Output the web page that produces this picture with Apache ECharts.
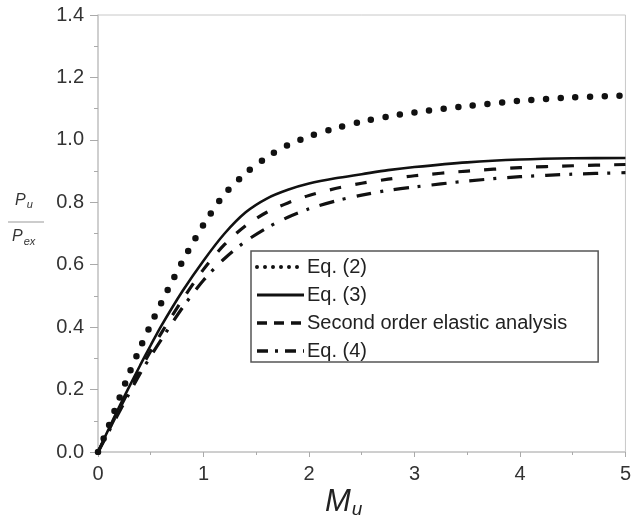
<!DOCTYPE html>
<html>
<head>
<meta charset="utf-8">
<script src="https://cdn.jsdelivr.net/npm/echarts@6/dist/echarts.min.js"></script>
<style>
  html, body { margin: 0; padding: 0; background: #fff; }
  #chart { width: 634px; height: 529px; }
</style>
</head>
<body>
<div id="chart"></div>
<script>
// Moment ratio Mu and the matching load ratio Pu/Pex for each method
const mu = [0, 0.1, 0.2, 0.3, 0.4, 0.5, 0.6, 0.8, 1.0, 1.2, 1.4, 1.6, 1.8, 2.0, 2.25, 2.5, 2.75, 3.0, 3.5, 4.0, 4.5, 5.0];
const eq2 = [0, 0.082, 0.170, 0.255, 0.334, 0.408, 0.478, 0.610, 0.728, 0.826, 0.893, 0.944, 0.983, 1.011, 1.037, 1.058, 1.075, 1.088, 1.108, 1.125, 1.136, 1.142];
const eq3 = [0, 0.073, 0.144, 0.212, 0.278, 0.342, 0.404, 0.515, 0.613, 0.700, 0.768, 0.812, 0.840, 0.860, 0.877, 0.890, 0.903, 0.913, 0.928, 0.937, 0.941, 0.942];
const secondOrder = [0, 0.068, 0.136, 0.202, 0.264, 0.324, 0.381, 0.488, 0.585, 0.665, 0.725, 0.768, 0.798, 0.822, 0.844, 0.861, 0.874, 0.885, 0.900, 0.911, 0.917, 0.921];
const eq4 = [0, 0.064, 0.127, 0.190, 0.252, 0.307, 0.360, 0.462, 0.550, 0.620, 0.675, 0.718, 0.752, 0.779, 0.804, 0.823, 0.838, 0.849, 0.868, 0.882, 0.890, 0.895];

const seriesNames = ['Eq. (2)', 'Eq. (3)', 'Second order elastic analysis', 'Eq. (4)'];
const xTicks = [0, 1, 2, 3, 4, 5];
const yTicks = [0.0, 0.2, 0.4, 0.6, 0.8, 1.0, 1.2, 1.4];

const pairs = ys => mu.map((x, i) => [x, ys[i]]);

const ink = '#111';
const axisGray = '#c8c8c8';
const labelFont = { fontFamily: 'Liberation Sans, Arial, sans-serif', fontSize: 20, color: '#333' };
const hidden = { color: 'rgba(0,0,0,0)', borderWidth: 0, opacity: 0 };

const lineSeries = (name, ys, style) => ({
  name,
  type: 'line',
  data: pairs(ys),
  smooth: 0.3,
  symbol: 'none',
  lineStyle: Object.assign({ color: ink }, style),
  itemStyle: { color: ink },
  z: 3
});

const chart = echarts.init(document.getElementById('chart'), null, { renderer: 'canvas' });
chart.setOption({
  animation: false,
  backgroundColor: '#fff',
  grid: {
    left: 98, right: 6, top: 15, bottom: 77,
    show: true, borderColor: axisGray, borderWidth: 1
  },
  xAxis: {
    type: 'value', min: 0, max: 5, interval: 1,
    axisLine: { show: true, lineStyle: { color: axisGray, width: 1.5 } },
    axisTick: { show: true, inside: false, length: 5, lineStyle: { color: '#aaa' } },
    minorTick: { show: true, splitNumber: 2, length: 3, lineStyle: { color: '#aaa' } },
    splitLine: { show: false },
    axisLabel: Object.assign({ margin: 12, formatter: v => (xTicks.includes(v) ? String(v) : '') }, labelFont)
  },
  yAxis: {
    type: 'value', min: 0, max: 1.4, interval: 0.2,
    axisLine: { show: true, lineStyle: { color: axisGray, width: 1.5 } },
    axisTick: { show: true, inside: false, length: 8, lineStyle: { color: '#aaa' } },
    minorTick: { show: true, splitNumber: 2, length: 4, lineStyle: { color: '#aaa' } },
    splitLine: { show: false },
    axisLabel: Object.assign({ margin: 14, formatter: v => v.toFixed(1) }, labelFont)
  },
  legend: {
    orient: 'vertical',
    left: 251, top: 251,
    padding: [6, 31, 1, 4],
    itemGap: 8,
    itemWidth: 47,
    itemHeight: 14,
    backgroundColor: '#fff',
    borderColor: '#555',
    borderWidth: 1.5,
    itemStyle: hidden,
    textStyle: { fontFamily: 'Liberation Sans, Arial, sans-serif', fontSize: 20, color: '#222', padding: [0, 0, 0, -2] },
    data: [
      { name: seriesNames[0], itemStyle: hidden, lineStyle: { color: ink, width: 4, type: [0, 8], cap: 'round' } },
      { name: seriesNames[1], itemStyle: hidden, lineStyle: { color: ink, width: 3, type: 'solid' } },
      { name: seriesNames[2], itemStyle: hidden, lineStyle: { color: ink, width: 3.5, type: [10, 7] } },
      { name: seriesNames[3], itemStyle: hidden, lineStyle: { color: ink, width: 3.5, type: [11, 7, 3, 7] } }
    ]
  },
  series: [
    lineSeries(seriesNames[0], eq2, { width: 6.5, type: [0, 14.7], cap: 'round' }),
    lineSeries(seriesNames[1], eq3, { width: 2.6, type: 'solid' }),
    lineSeries(seriesNames[2], secondOrder, { width: 3.2, type: [12, 14] }),
    lineSeries(seriesNames[3], eq4, { width: 3.2, type: [15, 9, 3, 11] })
  ],
  graphic: [
    // vertical axis title as a fraction Pu / Pex
    {
      type: 'text', left: 15, top: 193,
      style: {
        text: '{p|P}{s|u}',
        rich: {
          p: { fontFamily: 'Liberation Sans, Arial', fontStyle: 'italic', fontSize: 16, fill: '#333' },
          s: { fontFamily: 'Liberation Sans, Arial', fontStyle: 'italic', fontSize: 11, fill: '#333', padding: [8, 0, 0, 1] }
        }
      }
    },
    {
      type: 'line',
      shape: { x1: 8, y1: 222, x2: 44, y2: 222 },
      style: { stroke: '#999', lineWidth: 1.2 }
    },
    {
      type: 'text', left: 12, top: 229,
      style: {
        text: '{p|P}{s|ex}',
        rich: {
          p: { fontFamily: 'Liberation Sans, Arial', fontStyle: 'italic', fontSize: 16, fill: '#333' },
          s: { fontFamily: 'Liberation Sans, Arial', fontStyle: 'italic', fontSize: 11, fill: '#333', padding: [10, 0, 0, 1] }
        }
      }
    },
    // horizontal axis title Mu
    {
      type: 'text', left: 325, top: 487,
      style: {
        text: '{m|M}{s|u}',
        rich: {
          m: { fontFamily: 'Liberation Sans, Arial', fontStyle: 'italic', fontSize: 31, fill: '#222' },
          s: { fontFamily: 'Liberation Sans, Arial', fontStyle: 'italic', fontSize: 19, fill: '#222', padding: [14, 0, 0, 1] }
        }
      }
    }
  ]
});
</script>
</body>
</html>
